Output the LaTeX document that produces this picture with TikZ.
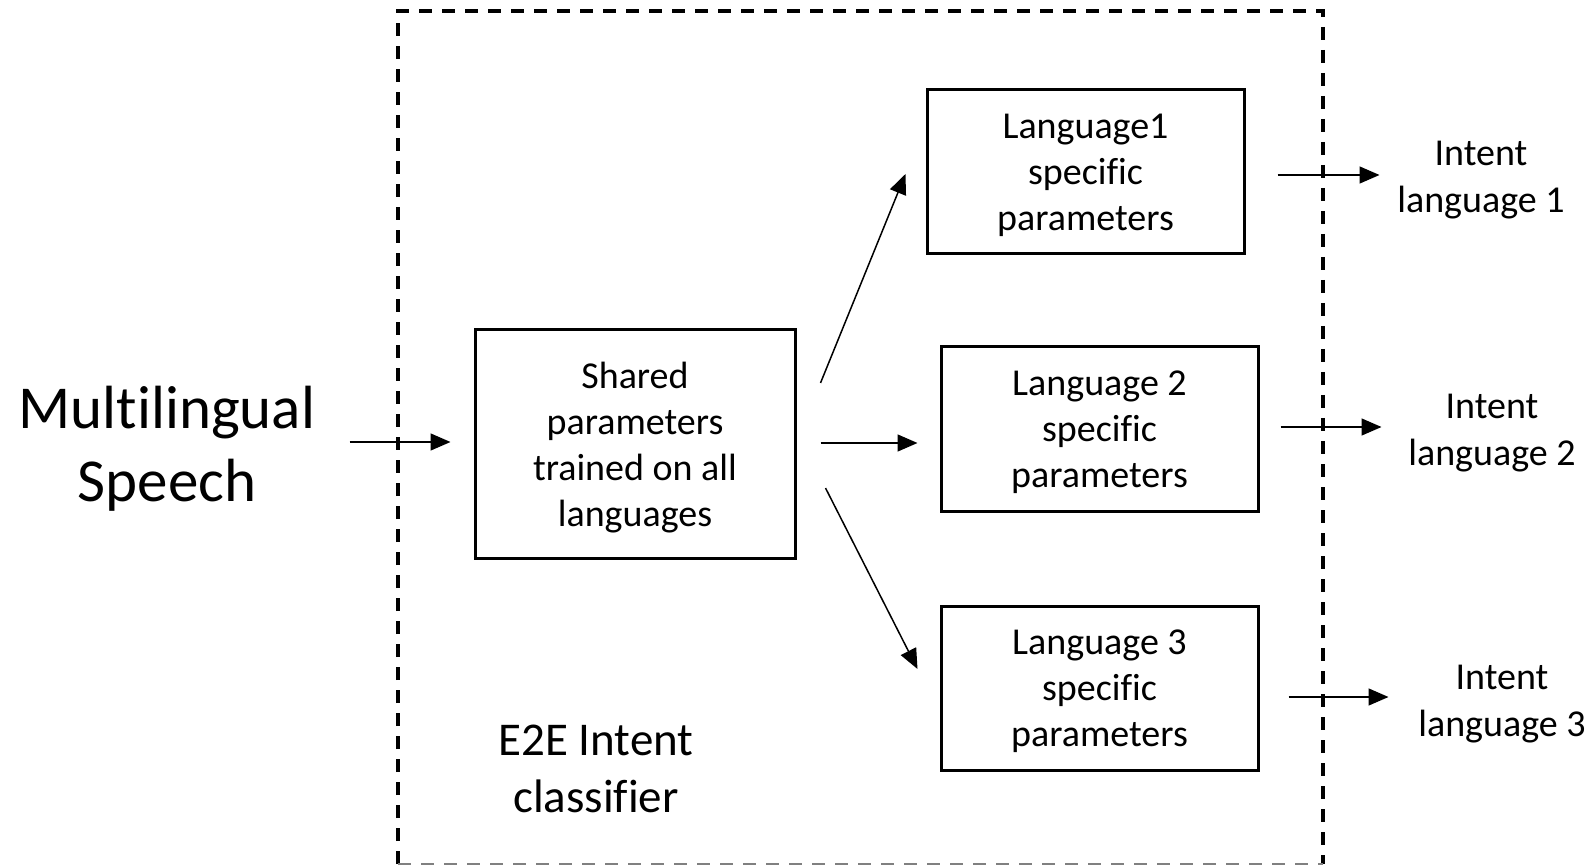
\documentclass[tikz,border=0pt]{standalone}
\usepackage{fontspec}
\setmainfont[Ligatures=NoCommon]{Carlito}
\usetikzlibrary{arrows.meta,calc}
\begin{document}
\begin{tikzpicture}[x=1pt,y=-1pt,
  box/.style={draw, line width=3pt, inner sep=0pt, align=center,
    minimum width=317pt, minimum height=164pt, text depth=0pt,
    font=\fontsize{38}{46}\selectfont},
  lbl/.style={inner sep=0pt, align=center, font=\fontsize{38}{47}\selectfont},
  conn/.style={line width=1.5pt, -{Triangle[length=20pt,width=17pt]}},
  frameline/.style={line width=3.2pt, dash pattern=on 13pt off 10pt}]
\useasboundingbox (0,0) rectangle (1591,866);

% classifier frame
\draw[frameline] (398,864) -- (398,11) -- (1323,11) -- (1323,864);
\draw[frameline, gray, line width=1.6pt] (398,864) -- (1323,864);

% text outside and inside the frame
\node[inner sep=0pt, align=center, font=\fontsize{61}{73}\selectfont] (speech) at (167,449) {Multilingual\\Speech};
\node[inner sep=0pt, align=center, font=\fontsize{47}{57}\selectfont] (e2e) at (596,769) {E2E Intent\\classifier};

% parameter blocks
\node[box, minimum width=320pt, minimum height=228pt] (shared) at (635,444) {Shared\\parameters\\trained on all\\languages};
\node[box] (l1) at (1085.5,172) {Language1\\specific\\parameters};
\node[box] (l2) at (1099.5,429) {Language 2\\specific\\parameters};
\node[box] (l3) at (1099.5,688) {Language 3\\specific\\parameters};

% outputs
\node[lbl] (o1) at (1481,180) {Intent\\language 1};
\node[lbl] (o2) at (1492,433) {Intent\\language 2};
\node[lbl] (o3) at (1502,704) {Intent\\language 3};

% connectors
\draw[conn] ($(shared.west)+(-124,-2)$) -- ($(shared.west)+(-23,-2)$);
\draw[conn] ($(shared.east)+(24,-61)$) -- ($(l1.west)+(-20,2)$);
\draw[conn] ($(shared.east)+(24,-1)$) -- ($(l2.west)+(-22,14)$);
\draw[conn] ($(shared.east)+(29,44)$) -- ($(l3.west)+(-22,-19)$);
\draw[conn] ($(l1.east)+(32,3)$) -- ($(l1.east)+(134,3)$);
\draw[conn] ($(l2.east)+(21,-2)$) -- ($(l2.east)+(122,-2)$);
\draw[conn] ($(l3.east)+(29,9)$) -- ($(l3.east)+(129,9)$);
\end{tikzpicture}
\end{document}
